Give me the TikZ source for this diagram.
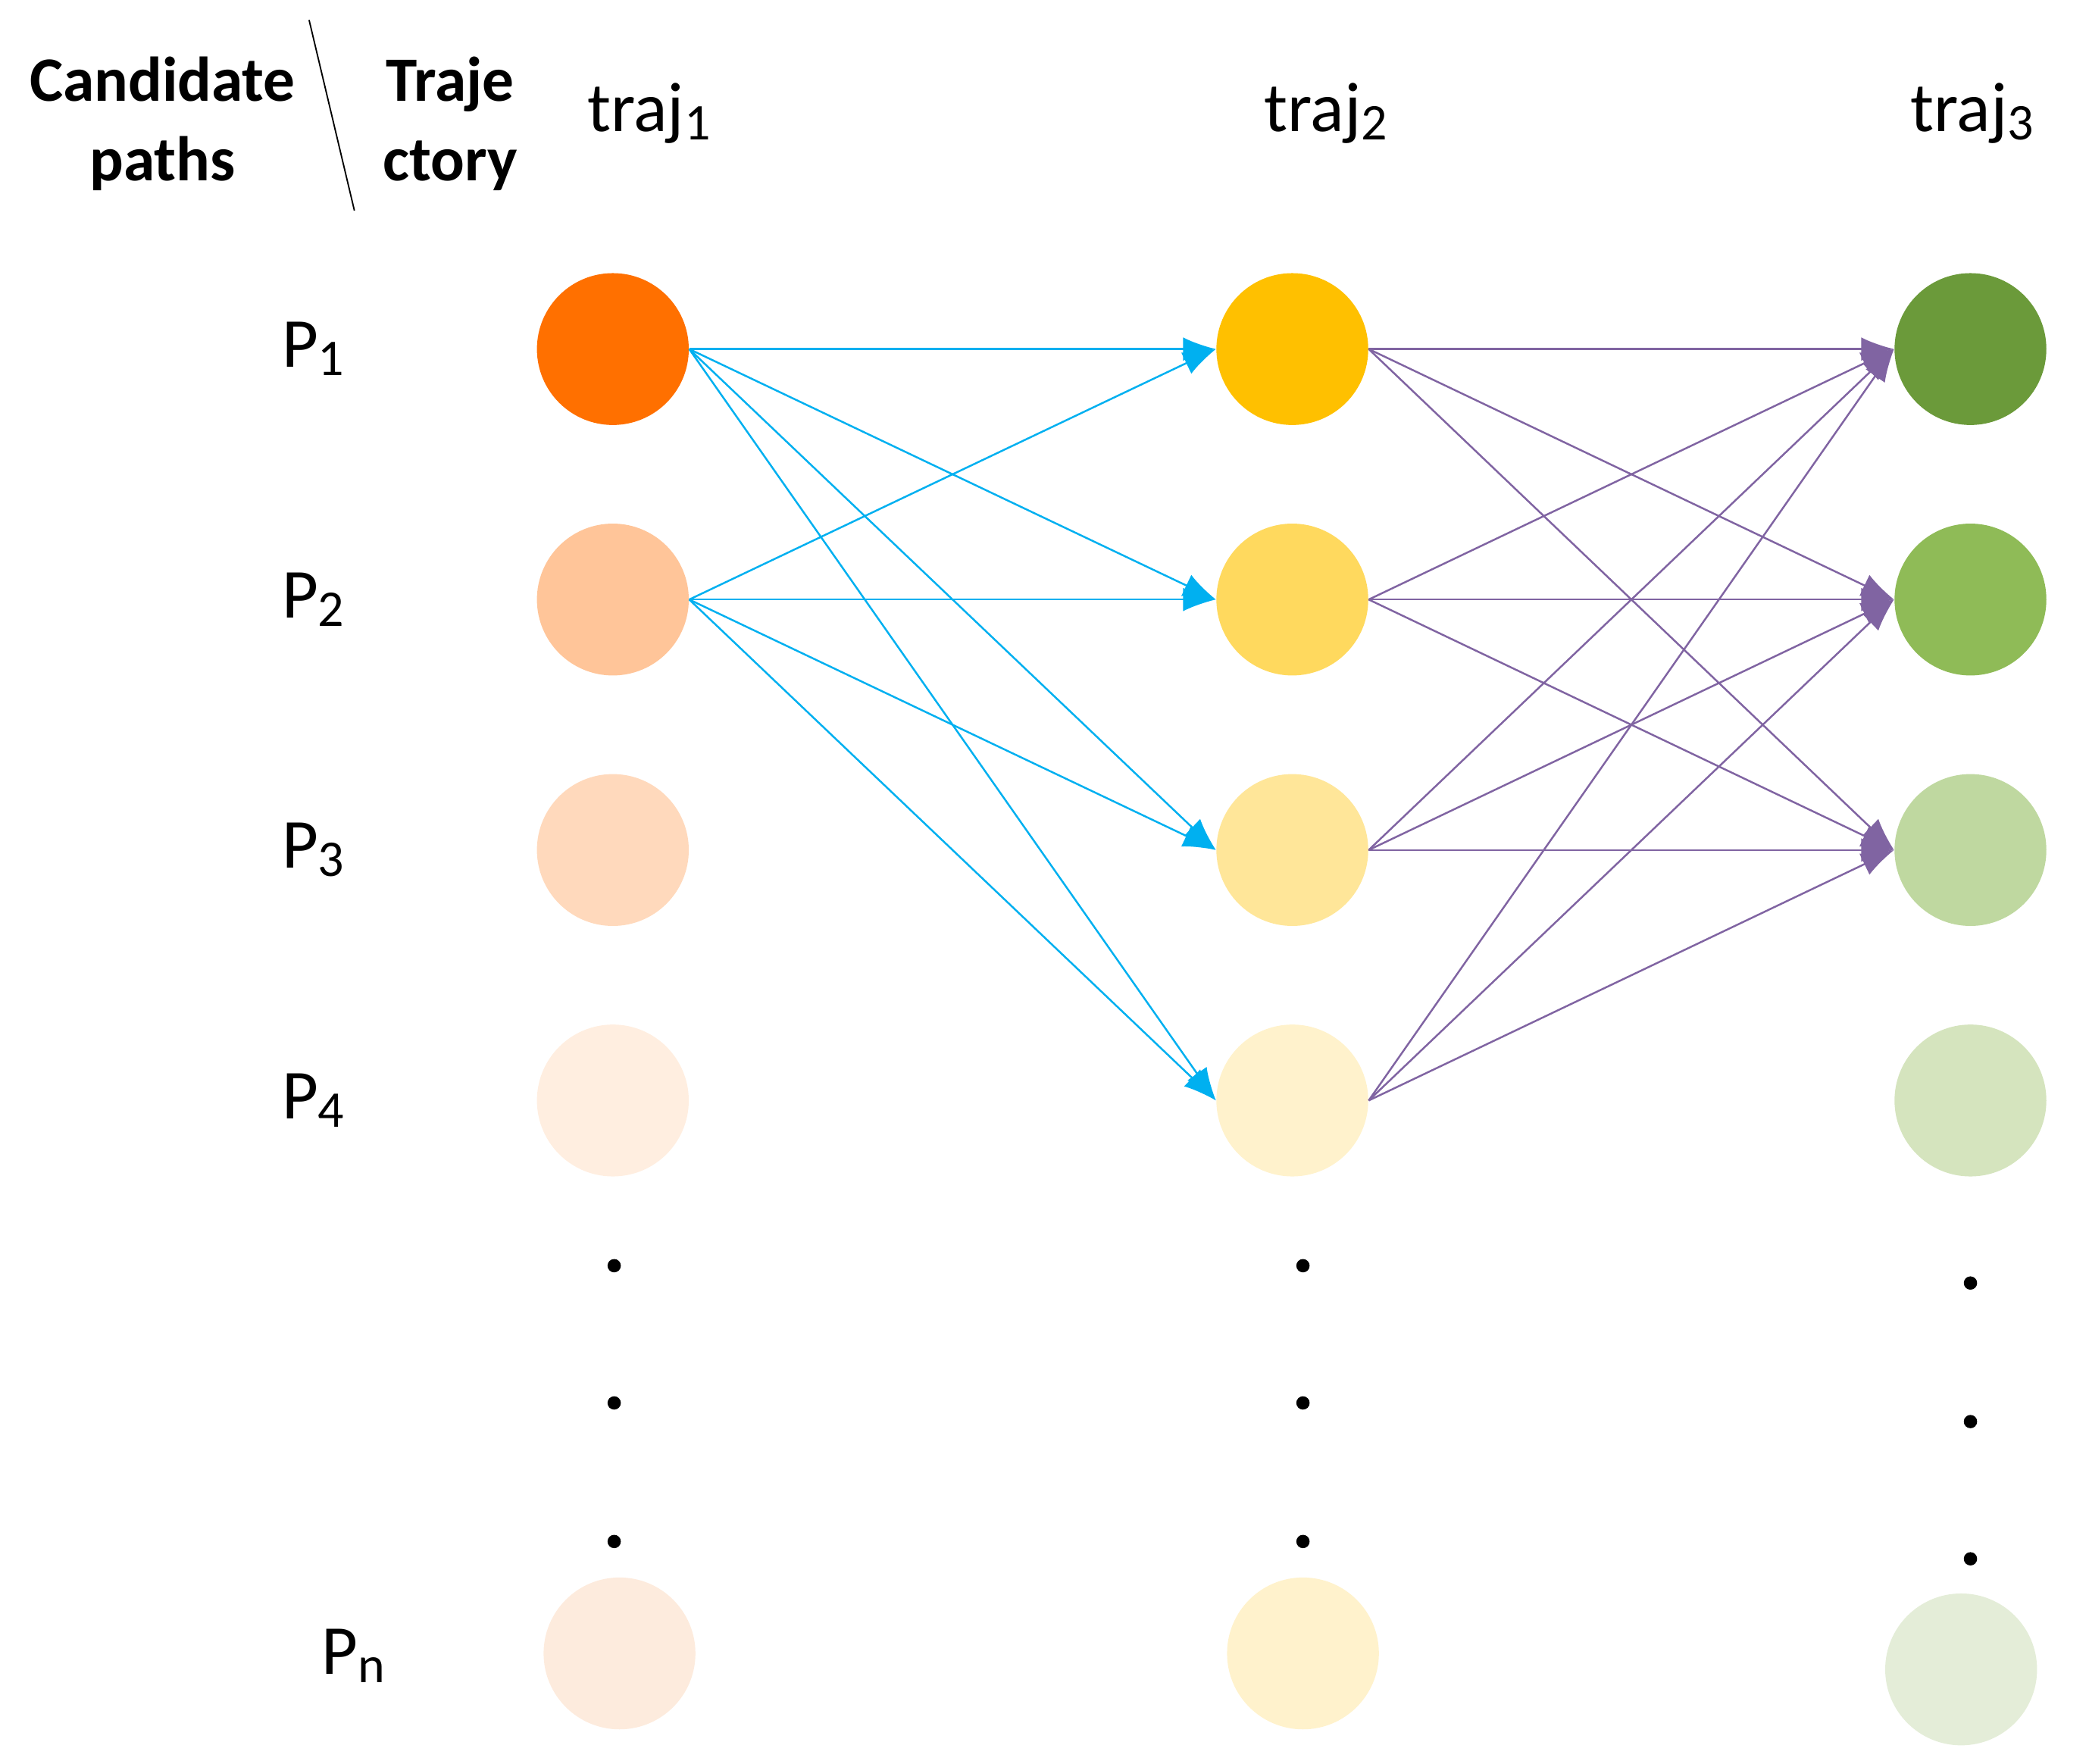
\documentclass[tikz,border=0pt]{standalone}
\usepackage{fontspec}
\setmainfont{Carlito}
\newcommand{\mysb}[1]{\raisebox{-0.25ex}{\fontsize{22}{26}\selectfont #1}}
\begin{document}
\begin{tikzpicture}[x=0.02cm,y=-0.02cm,
 c/.style={circle,minimum size=2.28cm,inner sep=0,draw=none},
 lab/.style={font=\fontsize{30}{36}\selectfont},
 hd/.style={font=\bfseries\fontsize{27}{34}\selectfont,align=center},
 be/.style={draw={rgb,255:red,0;green,176;blue,240},line width=0.8pt,-{Latex[length=14pt,width=10pt]}},
 pe/.style={draw={rgb,255:red,128;green,100;blue,162},line width=0.8pt,-{Latex[length=14pt,width=10pt]}},
 dt/.style={circle,fill=black,inner sep=0,minimum size=0.2cm}]
\usetikzlibrary{arrows.meta}
\useasboundingbox (0,0) rectangle (1568,1324);
\definecolor{a1}{HTML}{FF7000}\definecolor{a2}{HTML}{FFC599}\definecolor{a3}{HTML}{FFD9BC}\definecolor{a4}{HTML}{FFEEE0}\definecolor{an}{HTML}{FDEBDD}
\definecolor{b1}{HTML}{FFC000}\definecolor{b2}{HTML}{FFD95E}\definecolor{b3}{HTML}{FFE699}\definecolor{b4}{HTML}{FFF2CC}
\definecolor{g1}{HTML}{6B9A3A}\definecolor{g2}{HTML}{8FBB57}\definecolor{g3}{HTML}{BFD8A0}\definecolor{g4}{HTML}{D5E4BE}\definecolor{gn}{HTML}{E4EDD8}
\foreach \i/\y in {1/262,2/450,3/638,4/826}{
 \node[c,fill=a\i] (a\i) at (460,\y) {};
 \node[c,fill=b\i] (b\i) at (970,\y) {};
 \node[c,fill=g\i] (g\i) at (1479,\y) {};
 \node[lab] (p\i) at (235,\y) {P\mysb{\i}};
}
\node[c,fill=an] (an) at (465,1241) {};
\node[c,fill=b4] (bn) at (978,1241) {};
\node[c,fill=gn] (gn) at (1472,1253) {};
\node[lab] (pn) at (265,1243) {P\mysb{n}};
\foreach \y [count=\k] in {950,1053,1157}{\node[dt] (da\k) at (461,\y) {};\node[dt] (db\k) at (978,\y) {};}
\foreach \y [count=\k] in {963,1067,1170}{\node[dt] (dg\k) at (1479,\y) {};}
\node[lab] (t1) at (487,85) {traj\mysb{1}};
\node[lab] (t2) at (995,85) {traj\mysb{2}};
\node[lab] (t3) at (1480,85) {traj\mysb{3}};
\node[hd] (cp) at (122,93) {Candidate\\paths};
\node[hd] (tr) at (338,93) {Traje\\ctory};
\coordinate (l1) at (232,15); \coordinate (l2) at (266,158);
\draw[line width=0.6pt] (l1) -- (l2);
\foreach \s in {1,2}\foreach \t in {1,2,3,4}{\draw[be] (a\s.east) -- (b\t.west);}
\foreach \s in {1,2,3,4}\foreach \t in {1,2,3}{\draw[pe] (b\s.east) -- (g\t.west);}
\end{tikzpicture}
\end{document}
